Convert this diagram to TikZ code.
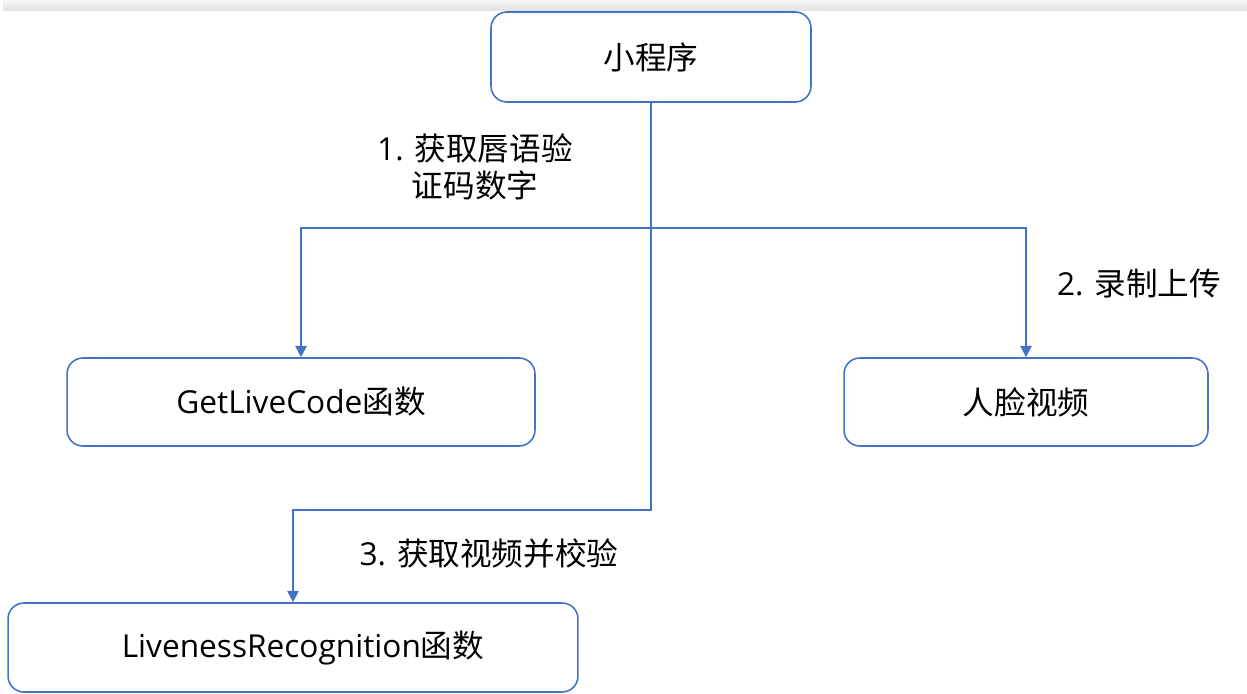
\documentclass[tikz,border=0pt]{standalone}
\usepackage{fontspec}
\setmainfont{Open Sans}
\newfontfamily\cjk{Noto Sans CJK SC}
\usetikzlibrary{arrows.meta}
\definecolor{flowblue}{RGB}{68,114,196}
\tikzset{
  box/.style={draw=flowblue, line width=0.9pt, rounded corners=9pt, fill=white,
    inner sep=0pt, font=\fontsize{18}{21}\selectfont},
  flow/.style={draw=flowblue, line width=1pt},
  steplabel/.style={font=\fontsize{18}{21}\selectfont, align=center},
  >={Triangle[length=6.5pt,width=6.5pt]}
}
\begin{document}
\begin{tikzpicture}[x=0.02cm,y=-0.02cm]
\useasboundingbox (0,0) rectangle (1247,693);
%%% top band of the screenshot
\shade[top color=gray!6, bottom color=gray!22] (3,0) rectangle (1247,10);
%
\node[box, minimum width=6.4cm, minimum height=1.8cm] (prog) at (651,57)
{\cjk 小程序};
\node[box, minimum width=9.36cm, minimum height=1.76cm] (getcode) at (301,402)
{GetLiveCode{\cjk 函数}};
\node[box, minimum width=7.28cm, minimum height=1.76cm] (face) at (1026,402)
{\cjk 人脸视频};
\node[box, minimum width=11.4cm, minimum height=1.78cm] (live) at (293,647.5)
{\hspace{0.4cm}LivenessRecognition{\cjk 函数}};
%
\coordinate (split) at (651,228);
\coordinate (turn) at (651,510);
%Dependency between the mini program and the functions
\draw[flow, ->] (prog.south) -- (turn) -| (live.north);
\draw[flow, ->] (split) -| (getcode.north);
\draw[flow, ->] (split) -| (face.north);
%
\node[steplabel] (s1) at (475,167) {1. {\cjk 获取唇语验}\\{\cjk 证码数字}};
\node[steplabel] (s2) at (1139,284) {2. {\cjk 录制上传}};
\node[steplabel] (s3) at (489,553) {3. {\cjk 获取视频并校验}};
\end{tikzpicture}
\end{document}
